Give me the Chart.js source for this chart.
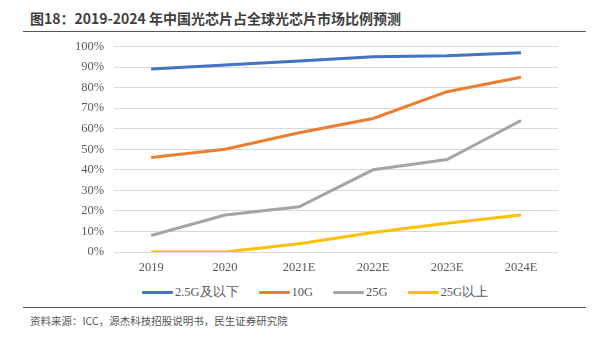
<!DOCTYPE html>
<html>
<head>
<meta charset="utf-8">
<script src="https://cdn.jsdelivr.net/npm/chart.js@4"></script>
<style>
  body { margin: 0; width: 610px; height: 342px; background: #fff; position: relative; overflow: hidden; font-family: 'Noto Sans CJK SC', sans-serif; }
  .title { position: absolute; left: 30px; top: 8px; font-size: 14px; font-weight: bold; color: #3f3f3f; }
  .rule { position: absolute; left: 23px; width: 563px; height: 1px; background: #555; }
  .source { position: absolute; left: 30px; top: 313px; font-size: 10.5px; color: #555; }
  #wrap { position: absolute; left: 0; top: 29px; width: 610px; height: 246px; }
  #legend { position: absolute; left: 0; width: 610px; top: 284px; display: flex; justify-content: center; padding-left: 20px; box-sizing: border-box;
            font-family: 'Liberation Serif', 'Times New Roman', serif; font-size: 12.5px; color: #595959; line-height: 16px; }
  #legend span.item { display: flex; align-items: center; margin: 0 10px; }
  #legend span.mark { display: inline-block; width: 31px; height: 3px; margin-right: 2px; border-radius: 1px; }
</style>
</head>
<body>
<div class="title">图18：2019-2024 年中国光芯片占全球光芯片市场比例预测</div>
<div class="rule" style="top:31px"></div>
<div id="wrap"><canvas id="chart"></canvas></div>
<div id="legend"></div>
<div class="rule" style="top:307px"></div>
<div class="source">资料来源：ICC，源杰科技招股说明书，民生证券研究院</div>
<script>
const years = ['2019', '2020', '2021E', '2022E', '2023E', '2024E'];
const seriesNames = ['2.5G及以下', '10G', '25G', '25G以上'];
const lowSpeed = [89, 91, 93, 95, 95.5, 97];
const tenG = [46, 50, 58, 65, 78, 85];
const twentyFiveG = [8, 18, 22, 40, 45, 64];
const aboveTwentyFive = [0, 0, 4, 9.5, 14, 18];
const colors = ['#4472c4', '#ed7d31', '#a5a5a5', '#ffc000'];

const serif = "'Liberation Serif', 'Times New Roman', serif";

function makeSet(i, data) {
  return {
    label: seriesNames[i],
    data: data,
    borderColor: colors[i],
    backgroundColor: colors[i],
    borderWidth: 3,
    pointRadius: 0,
    tension: 0
  };
}

const chart = new Chart(document.getElementById('chart'), {
  type: 'line',
  data: {
    labels: years,
    datasets: [
      makeSet(0, lowSpeed),
      makeSet(1, tenG),
      makeSet(2, twentyFiveG),
      makeSet(3, aboveTwentyFive)
    ]
  },
  options: {
    responsive: true,
    maintainAspectRatio: false,
    animation: false,
    layout: { padding: { left: 65, right: 52, top: 11, bottom: 0 } },
    scales: {
      x: {
        offset: true,
        grid: { display: false },
        border: { display: false },
        ticks: { color: '#595959', font: { family: serif, size: 12.5 }, padding: 0 }
      },
      y: {
        min: 0,
        max: 100,
        ticks: {
          stepSize: 10,
          color: '#595959',
          font: { family: serif, size: 12.5 },
          padding: 10,
          callback: v => v + '%'
        },
        grid: { color: '#d9d9d9', lineWidth: 1, drawTicks: false },
        border: { display: false }
      }
    },
    plugins: {
      legend: { display: false },
      tooltip: { enabled: false }
    }
  }
});

// legend built from the same datasets
const legend = document.getElementById('legend');
chart.data.datasets.forEach(ds => {
  const item = document.createElement('span');
  item.className = 'item';
  item.innerHTML = `<span class="mark" style="background:${ds.borderColor}"></span>${ds.label}`;
  legend.appendChild(item);
});
</script>
</body>
</html>
